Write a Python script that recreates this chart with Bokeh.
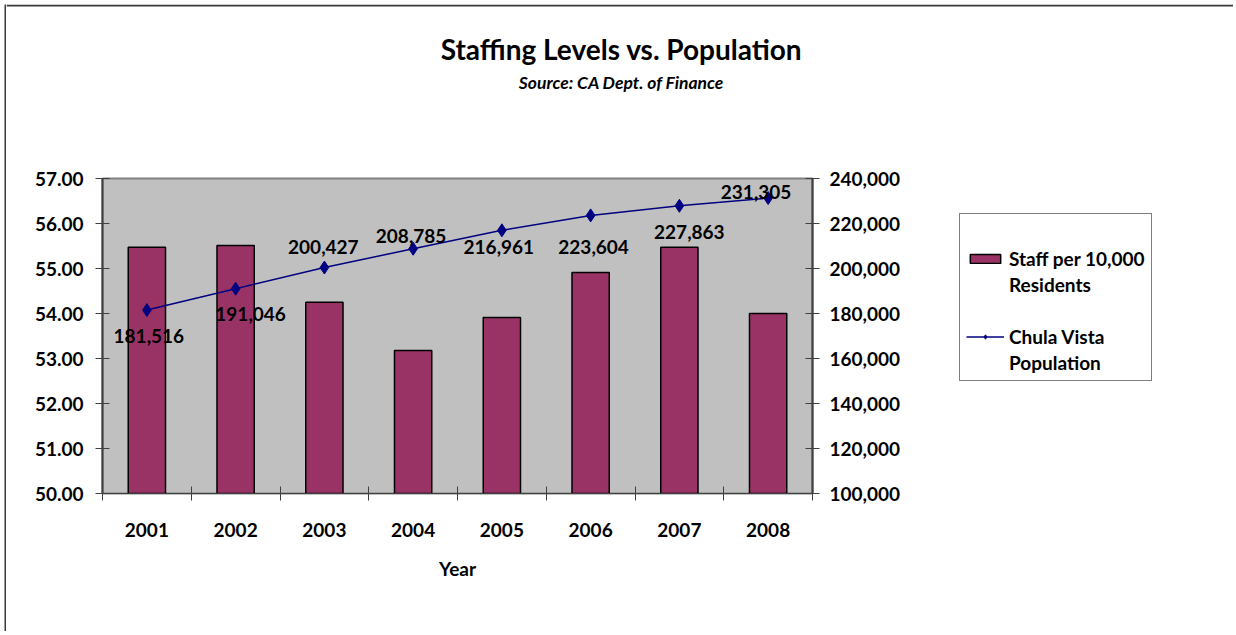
from bokeh.plotting import figure
from bokeh.layouts import column, row
from bokeh.models import (ColumnDataSource, Range1d, LinearAxis, FixedTicker, NumeralTickFormatter,
                          LabelSet, Label, Legend, LegendItem)
from bokeh.core.properties import value
from bokeh.embed import file_html
from bokeh.resources import INLINE

years = ["2001", "2002", "2003", "2004", "2005", "2006", "2007", "2008"]
staff_per_10k = [55.47, 55.51, 54.25, 53.18, 53.91, 54.91, 55.47, 54.00]
population = [181516, 191046, 200427, 208785, 216961, 223604, 227863, 231305]
left_ticks = [50, 51, 52, 53, 54, 55, 56, 57]
right_ticks = [100000, 120000, 140000, 160000, 180000, 200000, 220000, 240000]

# label placement (screen px, style only)
label_dx = [2, 15, -1, -2, -3, 3, 10, -12]
label_dy = [-26, -25, 21, 13, -17, -32, -26, 6]

FONT = "Lato"
BAR_FILL = "#993366"
LINE_COL = "#000080"
AX_COL = "#404040"
EDGE_COL = "#3a3a3a"
n = len(years)
xc = [i + 0.5 for i in range(n)]

src = ColumnDataSource(dict(
    x=xc, staff=staff_per_10k, pop=population,
    lbl=[f"{v:,}" for v in population], dx=label_dx, dy=label_dy))

TOTAL_W = 1227
TOP_H = 102
MAIN_W, MAIN_H = 940, 525
LEG_W = TOTAL_W - MAIN_W
FL, FR, FT, FB = 96, 806, 72, 387


def blank_fig(w, h, fill="white"):
    f = figure(width=w, height=h, output_backend="svg", toolbar_location=None,
               x_range=Range1d(0, w), y_range=Range1d(0, h),
               min_border=0, border_fill_color=fill, background_fill_color=fill,
               outline_line_color=None)
    f.axis.visible = False
    f.grid.visible = False
    return f


# ---- title strip (also carries the chart area's top edge) ----
top = blank_fig(TOTAL_W, TOP_H)
top.quad(left=[0], right=[TOTAL_W], bottom=[TOP_H - 2], top=[TOP_H],
         fill_color=EDGE_COL, line_color=None)
top.add_layout(Label(x=615, y=TOP_H - 44, text="Staffing Levels vs. Population",
                     text_align="center", text_baseline="middle", text_font=FONT, text_font_style="bold",
                     text_font_size="28px", text_color="black"))
top.add_layout(Label(x=615, y=TOP_H - 78, text="Source: CA Dept. of Finance",
                     text_align="center", text_baseline="middle", text_font=FONT,
                     text_font_style="bold italic", text_font_size="17.5px", text_color="black"))

# ---- main chart ----
p = figure(width=MAIN_W, height=MAIN_H, output_backend="svg", toolbar_location=None,
           x_range=Range1d(0, n), y_range=Range1d(50, 57),
           min_border_left=FL, min_border_right=MAIN_W - FR, min_border_top=FT,
           min_border_bottom=MAIN_H - FB,
           background_fill_color="#C0C0C0", border_fill_color="white",
           outline_line_color="#808080", outline_line_width=2)
p.grid.visible = False
p.extra_y_ranges = {"pop": Range1d(100000, 240000)}

xa = p.xaxis[0]
xa.ticker = FixedTicker(ticks=xc, minor_ticks=list(range(n + 1)))
xa.major_label_overrides = {v: y for v, y in zip(xc, years)}
xa.major_tick_in = 0
xa.major_tick_out = 0
xa.minor_tick_in = 7
xa.minor_tick_out = 7
xa.minor_tick_line_color = AX_COL
xa.axis_line_color = AX_COL
xa.major_label_standoff = 22
xa.major_label_text_font = FONT
xa.major_label_text_font_style = "bold"
xa.major_label_text_font_size = "19px"
xa.major_label_text_color = "black"
xa.axis_label = "Year"
xa.axis_label_standoff = 17
xa.axis_label_text_font = FONT
xa.axis_label_text_font_style = "bold"
xa.axis_label_text_font_size = "19px"
xa.axis_label_text_color = "black"

ya = p.yaxis[0]
ya.ticker = FixedTicker(ticks=left_ticks, minor_ticks=[])
ya.formatter = NumeralTickFormatter(format="0.00")

ra = LinearAxis(y_range_name="pop", ticker=FixedTicker(ticks=right_ticks, minor_ticks=[]),
                formatter=NumeralTickFormatter(format="0,0"))
p.add_layout(ra, "right")
for ax, so in ((ya, 12), (ra, 10)):
    ax.major_tick_in = 7
    ax.major_tick_out = 7
    ax.major_tick_line_color = AX_COL
    ax.axis_line_color = AX_COL
    ax.axis_line_width = 2
    ax.major_label_standoff = so
    ax.major_label_text_font = FONT
    ax.major_label_text_font_style = "bold"
    ax.major_label_text_font_size = "19px"
    ax.major_label_text_color = "black"

p.vbar(x="x", top="staff", bottom=50, width=0.42, source=src,
       fill_color=BAR_FILL, line_color="black", line_width=1.5)
p.line(x="x", y="pop", source=src, y_range_name="pop", line_color=LINE_COL, line_width=1.5)
p.scatter(x="x", y="pop", source=src, y_range_name="pop", marker="diamond", size=13,
          fill_color=LINE_COL, line_color=LINE_COL)

p.add_layout(LabelSet(x="x", y="pop", text="lbl", source=src, y_range_name="pop",
                      x_offset="dx", y_offset="dy", text_align="center", text_baseline="middle",
                      text_font=value(FONT), text_font_style="bold", text_font_size="19px",
                      text_color="black"))

# ---- legend panel (its frame is aligned with the main frame) ----
leg = blank_fig(LEG_W, MAIN_H)
offview = ColumnDataSource(dict(x=[-500, -400], y=[-500, -400]))
r_bar = leg.rect(x="x", y="y", width=1, height=1, source=offview,
                 fill_color=BAR_FILL, line_color="black", line_width=1.5)
r_line = leg.line(x="x", y="y", source=offview, line_color=LINE_COL, line_width=1.5)
r_pt = leg.scatter(x="x", y="y", source=offview, marker="diamond", size=11,
                   fill_color=LINE_COL, line_color=LINE_COL)
r_none = leg.scatter(x="x", y="y", source=offview, marker="dot", size=1, alpha=0)

legend = Legend(items=[LegendItem(label=" ", renderers=[r_none]),
                       LegendItem(label="Staff per 10,000", renderers=[r_bar]),
                       LegendItem(label="Residents", renderers=[r_none]),
                       LegendItem(label=" ", renderers=[r_none]),
                       LegendItem(label="Chula Vista", renderers=[r_line, r_pt]),
                       LegendItem(label="Population", renderers=[r_none])],
                location=(13, 493 - 381), orientation="vertical", margin=0,
                label_text_font=FONT, label_text_font_style="bold", label_text_font_size="19px",
                label_text_color="black",
                glyph_width=38, glyph_height=11, label_height=24, spacing=2, padding=6,
                label_standoff=5, border_line_color="black", border_line_width=1,
                background_fill_color="white", background_fill_alpha=1)
leg.add_layout(legend)

# ---- left edge of the chart area ----
vline = blank_fig(2, MAIN_H + TOP_H, fill=EDGE_COL)

layout = row(vline, column(top, row(p, leg, spacing=0), spacing=0), spacing=0)
layout.margin = (4, 0, 0, 4)

open("out.html", "w").write(file_html(layout, INLINE))
